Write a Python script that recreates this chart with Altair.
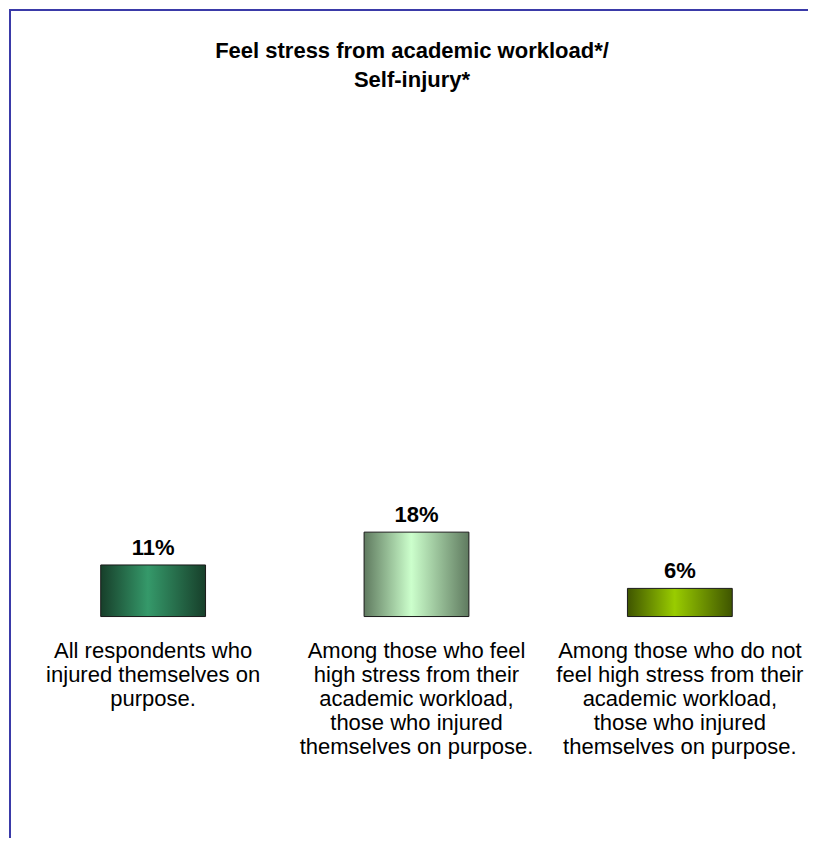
import altair as alt
import pandas as pd

categories = [
    "All respondents who\ninjured themselves on\npurpose.",
    "Among those who feel\nhigh stress from their\nacademic workload,\nthose who injured\nthemselves on purpose.",
    "Among those who do not\nfeel high stress from their\nacademic workload,\nthose who injured\nthemselves on purpose.",
]
keys = ["all", "high", "nothigh"]
values = [11, 18, 6]
labels = ["11%", "18%", "6%"]
edge_colors = ["#173f2a", "#5f7a5f", "#3f5500"]
mid_colors = ["#35996a", "#ccffcc", "#99cc00"]

title_text = "Feel stress from academic workload*/\nSelf-injury*"

df = pd.DataFrame({"key": keys, "cat": categories, "value": values, "label": labels})

W, H = 800, 830
FONT = "Liberation Sans"

x = alt.X("key:N", sort=keys, axis=None,
          scale=alt.Scale(paddingInner=0.602, paddingOuter=0.316, align=0.551))
yscale = alt.Scale(domain=[-47.02, 129.57], zero=False, nice=False)
y = alt.Y("value:Q", scale=yscale, axis=None)

base = alt.Chart(df)

bars = []
for k, e, m in zip(keys, edge_colors, mid_colors):
    grad = alt.Gradient(
        gradient="linear",
        stops=[alt.GradientStop(color=e, offset=0),
               alt.GradientStop(color=m, offset=0.45),
               alt.GradientStop(color=e, offset=1)],
        x1=0, x2=1, y1=0, y2=0,
    )
    bars.append(
        base.transform_filter(alt.datum.key == k)
        .mark_bar(color=grad, stroke="#1a1a1a", strokeWidth=1)
        .encode(x=x, y=y, y2=alt.datum(0))
    )

pct = base.mark_text(font=FONT, fontSize=22, fontWeight="bold", baseline="bottom",
                     dy=-5, color="#000000").encode(x=x, y=y, text="label:N")

cat_text = base.mark_text(font=FONT, fontSize=22, baseline="top", lineBreak="\n",
                          lineHeight=24, dy=24, color="#000000").encode(
    x=x, y=alt.datum(0, scale=yscale), text="cat:N")

title = alt.Chart(pd.DataFrame({"t": [title_text]})).mark_text(
    font=FONT, fontSize=22, fontWeight="bold", lineBreak="\n", lineHeight=29,
    baseline="middle", color="#000000"
).encode(x=alt.value(403), y=alt.value(42), text="t:N")

border_col = "#3a3aa8"
top_rule = alt.Chart(df).mark_rule(color=border_col, strokeWidth=2).encode(
    x=alt.value(0), x2=alt.value(W), y=alt.value(1))
left_rule = alt.Chart(df).mark_rule(color=border_col, strokeWidth=2).encode(
    x=alt.value(1), y=alt.value(0), y2=alt.value(H))
bottom_rule = alt.Chart(df).mark_rule(color="#e4e4f0", strokeWidth=1).encode(
    x=alt.value(0), x2=alt.value(W), y=alt.value(H - 0.5))

chart = alt.layer(*bars, pct, cat_text, title, top_rule, left_rule, bottom_rule).properties(
    width=W, height=H, padding=0,
    autosize=alt.AutoSizeParams(type="fit", contains="padding"),
).configure(background="#ffffff").configure_view(stroke=None, strokeWidth=0)

chart.save("out.html", embed_options={"renderer": "svg", "actions": False})
